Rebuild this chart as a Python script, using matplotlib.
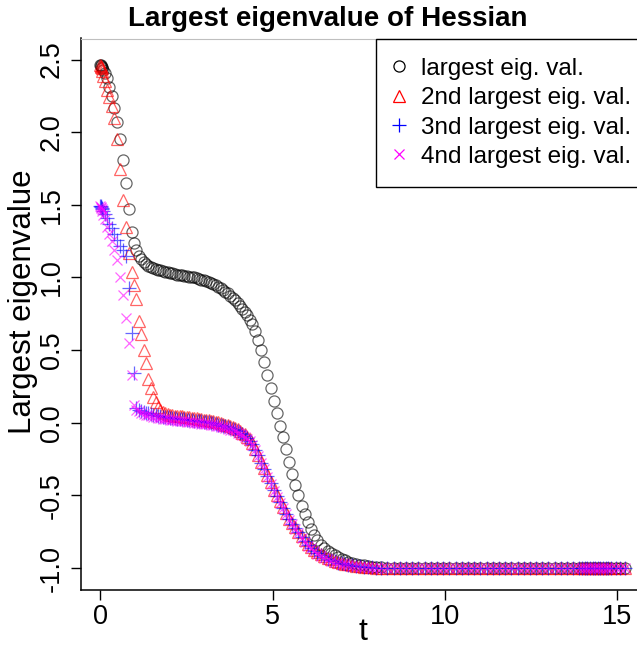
import matplotlib.pyplot as plt
from matplotlib.lines import Line2D

# Time points of the solver output
t = [
    0.0, 0.005, 0.015, 0.03, 0.05, 0.08, 0.12, 0.19, 0.26, 0.33,
    0.40, 0.49, 0.58, 0.66, 0.75, 0.84, 0.92, 0.98, 1.04, 1.11,
    1.18, 1.25, 1.32, 1.39, 1.46, 1.53, 1.60, 1.67, 1.74, 1.81,
    1.88, 1.95, 2.02, 2.09, 2.16, 2.23, 2.30, 2.37, 2.44, 2.51,
    2.58, 2.65, 2.72, 2.79, 2.86, 2.93, 3.00, 3.07, 3.14, 3.21,
    3.28, 3.35, 3.42, 3.49, 3.56, 3.63, 3.70, 3.77, 3.84, 3.91,
    3.98, 4.05, 4.12, 4.19, 4.26, 4.33, 4.40,
    4.49, 4.58, 4.67, 4.76, 4.85, 4.94, 5.03, 5.12, 5.21, 5.30,
    5.39, 5.48, 5.57, 5.66, 5.75, 5.84, 5.93, 6.02, 6.11, 6.20,
    6.30, 6.40, 6.50, 6.60, 6.70, 6.80, 6.90, 7.00, 7.10, 7.20,
    7.31, 7.42, 7.53, 7.64, 7.76, 7.88, 8.00,
    8.16, 8.33, 8.51, 8.69, 8.87, 9.05, 9.23, 9.41, 9.59, 9.77,
    9.95, 10.13, 10.31, 10.49, 10.67, 10.85, 11.03, 11.21, 11.39, 11.57,
    11.75, 11.93, 12.11, 12.29, 12.47, 12.65, 12.83, 13.01, 13.19, 13.37,
    13.55, 13.73,
    13.90, 13.98, 14.06, 14.13, 14.21, 14.29, 14.36, 14.44, 14.52, 14.59,
    14.67, 14.75, 14.83, 14.97, 15.10, 15.23,
]

# largest eig. val.
lam_1 = [
    2.46, 2.46, 2.455, 2.45, 2.445, 2.43, 2.41, 2.37, 2.31, 2.25,
    2.17, 2.07, 1.95, 1.81, 1.65, 1.47, 1.31, 1.24, 1.19, 1.15,
    1.125, 1.105, 1.09, 1.08, 1.07, 1.065, 1.06, 1.055, 1.05, 1.045,
    1.04, 1.035, 1.03, 1.03, 1.025, 1.02, 1.02, 1.015, 1.01, 1.01,
    1.005, 1.0, 1.0, 0.995, 0.99, 0.985, 0.98, 0.975, 0.97, 0.96,
    0.955, 0.945, 0.935, 0.925, 0.915, 0.90, 0.89, 0.875, 0.86, 0.845,
    0.825, 0.805, 0.785, 0.76, 0.74, 0.71, 0.68,
    0.63, 0.57, 0.50, 0.42, 0.33, 0.24, 0.15, 0.07, -0.02, -0.10,
    -0.18, -0.27, -0.35, -0.43, -0.50, -0.57, -0.63, -0.68, -0.73, -0.77,
    -0.81, -0.84, -0.865, -0.88, -0.895, -0.91, -0.925, -0.935, -0.945, -0.955,
    -0.963, -0.97, -0.977, -0.982, -0.987, -0.99, -0.993,
    -0.995, -0.997, -0.998, -0.999, -1.0, -1.0, -1.0, -1.0, -1.0, -1.0,
    -1.0, -1.0, -1.0, -1.0, -1.0, -1.0, -1.0, -1.0, -1.0, -1.0,
    -1.0, -1.0, -1.0, -1.0, -1.0, -1.0, -1.0, -1.0, -1.0, -1.0,
    -1.0, -1.0,
    -1.0, -1.0, -1.0, -1.0, -1.0, -1.0, -1.0, -1.0, -1.0, -1.0,
    -1.0, -1.0, -1.0, -1.0, -1.0, -1.0,
]

# 2nd largest eig. val.
lam_2 = [
    2.46, 2.455, 2.45, 2.44, 2.42, 2.39, 2.35, 2.29, 2.24, 2.18,
    2.10, 1.95, 1.75, 1.53, 1.35, 1.17, 1.04, 0.95, 0.85, 0.70,
    0.61, 0.50, 0.41, 0.30, 0.24, 0.18, 0.145, 0.11, 0.088, 0.075,
    0.066, 0.06, 0.056, 0.053, 0.05, 0.048, 0.046, 0.044, 0.042, 0.04,
    0.037, 0.035, 0.032, 0.03, 0.027, 0.025, 0.022, 0.02, 0.017, 0.014,
    0.01, 0.006, 0.002, -0.003, -0.008, -0.013, -0.018, -0.024, -0.03, -0.037,
    -0.045, -0.055, -0.067, -0.08, -0.095, -0.115, -0.14,
    -0.18, -0.22, -0.27, -0.31, -0.36, -0.41, -0.46, -0.50, -0.54, -0.58,
    -0.62, -0.66, -0.69, -0.72, -0.75, -0.78, -0.81, -0.835, -0.855, -0.875,
    -0.89, -0.905, -0.92, -0.93, -0.94, -0.95, -0.958, -0.965, -0.97, -0.975,
    -0.98, -0.984, -0.987, -0.99, -0.993, -0.995, -0.997,
    -0.998, -0.999, -1.0, -1.0, -1.0, -1.0, -1.0, -1.0, -1.0, -1.0,
    -1.0, -1.0, -1.0, -1.0, -1.0, -1.0, -1.0, -1.0, -1.0, -1.0,
    -1.0, -1.0, -1.0, -1.0, -1.0, -1.0, -1.0, -1.0, -1.0, -1.0,
    -1.0, -1.0,
    -1.0, -1.0, -1.0, -1.0, -1.0, -1.0, -1.0, -1.0, -1.0, -1.0,
    -1.0, -1.0, -1.0, -1.0, -1.0, -1.0,
]

# 3nd largest eig. val.
lam_3 = [
    1.49, 1.49, 1.485, 1.48, 1.47, 1.455, 1.44, 1.41, 1.37, 1.34,
    1.30, 1.26, 1.22, 1.19, 1.15, 0.93, 0.62, 0.34, 0.10, 0.09,
    0.082, 0.076, 0.07, 0.065, 0.06, 0.056, 0.052, 0.048, 0.045, 0.042,
    0.04, 0.037, 0.035, 0.033, 0.031, 0.029, 0.027, 0.025, 0.023, 0.021,
    0.019, 0.017, 0.015, 0.013, 0.011, 0.009, 0.007, 0.005, 0.002, -0.001,
    -0.004, -0.008, -0.012, -0.016, -0.02, -0.025, -0.03, -0.036, -0.043, -0.05,
    -0.058, -0.067, -0.078, -0.09, -0.105, -0.122, -0.145,
    -0.185, -0.225, -0.275, -0.315, -0.365, -0.415, -0.465, -0.505, -0.545, -0.585,
    -0.625, -0.665, -0.695, -0.725, -0.755, -0.785, -0.815, -0.84, -0.86, -0.88,
    -0.895, -0.91, -0.925, -0.935, -0.945, -0.954, -0.962, -0.968, -0.973, -0.978,
    -0.982, -0.986, -0.989, -0.992, -0.994, -0.996, -0.998,
    -0.999, -1.0, -1.0, -1.0, -1.0, -1.0, -1.0, -1.0, -1.0, -1.0,
    -1.0, -1.0, -1.0, -1.0, -1.0, -1.0, -1.0, -1.0, -1.0, -1.0,
    -1.0, -1.0, -1.0, -1.0, -1.0, -1.0, -1.0, -1.0, -1.0, -1.0,
    -1.0, -1.0,
    -1.0, -1.0, -1.0, -1.0, -1.0, -1.0, -1.0, -1.0, -1.0, -1.0,
    -1.0, -1.0, -1.0, -1.0, -1.0, -1.0,
]

# 4nd largest eig. val.
lam_4 = [
    1.49, 1.485, 1.48, 1.47, 1.455, 1.43, 1.40, 1.35, 1.30, 1.25,
    1.19, 1.12, 1.00, 0.88, 0.72, 0.55, 0.33, 0.12, 0.09, 0.08,
    0.068, 0.062, 0.056, 0.051, 0.046, 0.042, 0.038, 0.034, 0.031, 0.028,
    0.026, 0.023, 0.021, 0.019, 0.017, 0.015, 0.013, 0.011, 0.009, 0.007,
    0.005, 0.003, 0.001, -0.001, -0.003, -0.005, -0.007, -0.009, -0.011, -0.014,
    -0.017, -0.02, -0.024, -0.028, -0.032, -0.036, -0.041, -0.047, -0.053, -0.06,
    -0.067, -0.075, -0.085, -0.097, -0.11, -0.127, -0.15,
    -0.19, -0.23, -0.28, -0.32, -0.37, -0.42, -0.47, -0.51, -0.55, -0.59,
    -0.63, -0.67, -0.70, -0.73, -0.76, -0.79, -0.82, -0.845, -0.865, -0.885,
    -0.90, -0.915, -0.928, -0.938, -0.948, -0.956, -0.963, -0.969, -0.974, -0.979,
    -0.983, -0.987, -0.99, -0.993, -0.995, -0.997, -0.998,
    -0.999, -1.0, -1.0, -1.0, -1.0, -1.0, -1.0, -1.0, -1.0, -1.0,
    -1.0, -1.0, -1.0, -1.0, -1.0, -1.0, -1.0, -1.0, -1.0, -1.0,
    -1.0, -1.0, -1.0, -1.0, -1.0, -1.0, -1.0, -1.0, -1.0, -1.0,
    -1.0, -1.0,
    -1.0, -1.0, -1.0, -1.0, -1.0, -1.0, -1.0, -1.0, -1.0, -1.0,
    -1.0, -1.0, -1.0, -1.0, -1.0, -1.0,
]

labels = [
    "largest eig. val.",
    "2nd largest eig. val.",
    "3nd largest eig. val.",
    "4nd largest eig. val.",
]
x_ticks = [0, 5, 10, 15]
y_ticks = [-1.0, -0.5, 0.0, 0.5, 1.0, 1.5, 2.0, 2.5]

plt.rcParams["font.family"] = ["Liberation Sans", "DejaVu Sans"]

W, H = 637, 654
fig = plt.figure(figsize=(W / 100, H / 100), dpi=100)

# plot region in pixels (left, top, right, bottom)
left, top, right, bottom = 80.5, 38.5, 637, 590
ax = fig.add_axes([left / W, 1 - bottom / H, (right - left) / W, (bottom - top) / H])

# marker styles: (symbol, size, colour)
styles = [("o", 8, "black"), ("^", 9, "red"), ("+", 9.5, "blue"), ("x", 7.5, "magenta")]

# semi-transparent markers like R's adjustcolor(..., alpha=0.6)
for lam, (mk, ms, col) in zip([lam_1, lam_2, lam_3, lam_4], styles):
    ax.plot(t, lam, ls="none", marker=mk, ms=ms, mfc="none",
            mec=col, alpha=0.6, mew=0.9)

ax.set_xlim(-0.58, 15.58)
ax.set_ylim(-1.151, 2.645)

ax.set_xticks(x_ticks)
ax.set_xticklabels([str(v) for v in x_ticks])
ax.set_yticks(y_ticks)
ax.set_yticklabels([f"{v:.1f}" for v in y_ticks], rotation=90, va="center")
ax.tick_params(direction="out", length=7.2, width=1.0, labelsize=19.5, colors="black")
ax.tick_params(axis="y", pad=4)
ax.tick_params(axis="x", pad=3)

ax.spines["right"].set_visible(False)
ax.spines["top"].set_color("0.75")
ax.spines["top"].set_linewidth(0.8)
for s in ["left", "bottom"]:
    ax.spines[s].set_linewidth(1.1)

# legend with opaque symbols
handles = [
    Line2D([], [], ls="none", marker=mk, ms=ms, mfc="none", mec=col, mew=0.9)
    for mk, ms, col in styles
]
leg = ax.legend(
    handles,
    labels,
    loc="upper right",
    bbox_to_anchor=(1.025, 1.0),
    borderaxespad=0,
    fontsize=17.5,
    fancybox=False,
    framealpha=1,
    edgecolor="black",
    handlelength=0.25,
    handletextpad=0.8,
    labelspacing=0.3,
    borderpad=0.8,
)
leg.get_frame().set_linewidth(1.0)

fig.text(327.5 / W, 1 - 19 / H, "Largest eigenvalue of Hessian",
         fontsize=20, fontweight="bold", ha="center", va="center")
fig.text(23 / W, 1 - 301.5 / H, "Largest eigenvalue",
         fontsize=22.5, rotation=90, ha="center", va="center")
fig.text(363 / W, 1 - 632 / H, "t", fontsize=23, ha="center", va="center")

fig.savefig("out.png", dpi=100)
